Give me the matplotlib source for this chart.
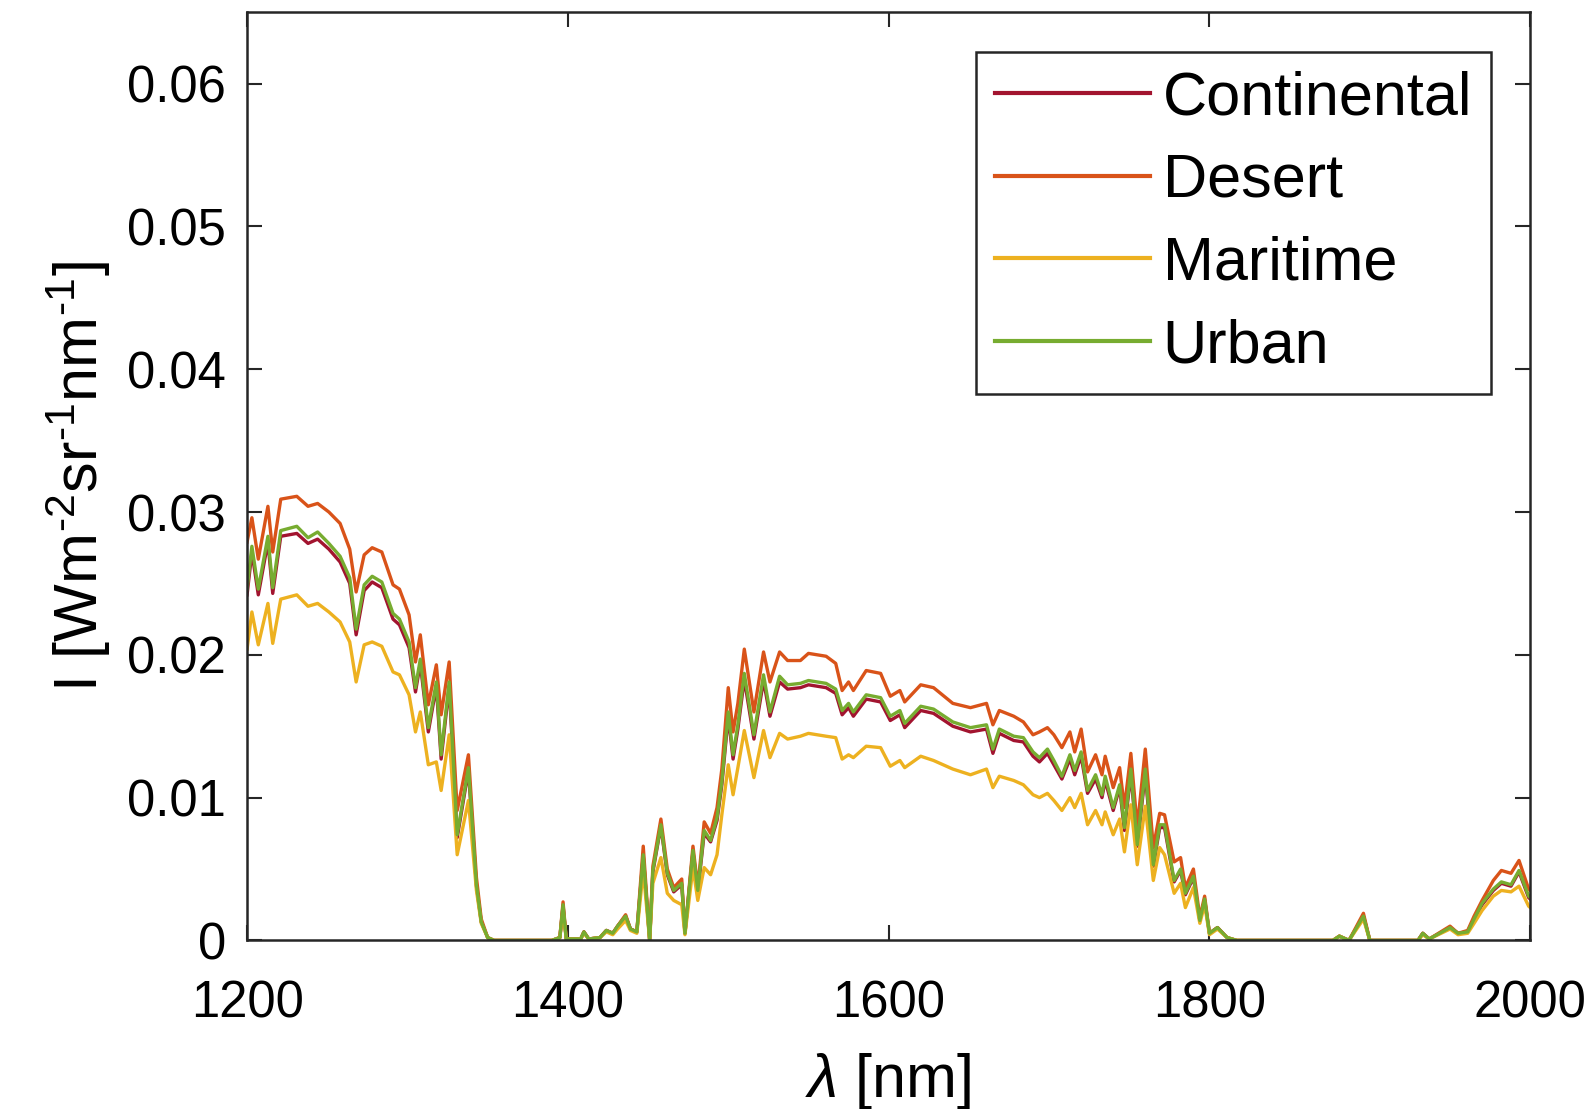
import numpy as np
import matplotlib.pyplot as plt

plt.rcParams['font.family'] = ['Liberation Sans', 'DejaVu Sans']
plt.rcParams['mathtext.fontset'] = 'custom'
plt.rcParams['mathtext.rm'] = 'Liberation Sans'
plt.rcParams['mathtext.it'] = 'Liberation Sans:italic'

# wavelength grid [nm]
wavelength = [1200, 1203, 1207, 1213, 1216, 1221, 1231, 1238, 1244, 1251,
              1258, 1264, 1268, 1273, 1278, 1284, 1291, 1295, 1301, 1305,
              1308, 1313, 1318, 1321, 1326, 1331, 1338, 1343, 1346, 1350,
              1354, 1390, 1395, 1397, 1399, 1408, 1410, 1413, 1420, 1424,
              1428, 1431, 1436, 1439, 1443, 1447, 1451, 1453, 1458, 1462,
              1466, 1471, 1473, 1478, 1481, 1485, 1489, 1493, 1496, 1500,
              1503, 1506, 1510, 1516, 1522, 1526, 1532, 1537, 1545, 1550,
              1561, 1567, 1571, 1575, 1578, 1586, 1595, 1601, 1607, 1610,
              1620, 1628, 1640, 1651, 1661, 1665, 1669, 1678, 1684, 1690,
              1694, 1699, 1703, 1708, 1713, 1716, 1720, 1724, 1729, 1733,
              1735, 1740, 1744, 1747, 1751, 1755, 1760, 1765, 1769, 1772,
              1778, 1782, 1785, 1790, 1794, 1797, 1800, 1805, 1811, 1817,
              1877, 1881, 1887, 1896, 1900, 1930, 1933, 1937, 1950, 1955,
              1961, 1965, 1970, 1977, 1982, 1988, 1993, 1999, 2000]

continental = [.0242, .0272, .0242, .0279, .0243, .0283, .0285, .0278, .0281, .0274,
               .0265, .0250, .0214, .0245, .0251, .0247, .0225, .0221, .0205, .0174,
               .0194, .0146, .0178, .0127, .0178, .0072, .0119, .0038, .0013, .0002,
               0, 0, .0002, .0024, .0001, .0001, .0006, .0001, .0002, .0007,
               .0005, .0010, .0017, .0008, .0006, .0059, 0, .0048, .0080, .0046,
               .0034, .0039, .0005, .0062, .0034, .0075, .0069, .0084, .0109, .0157,
               .0127, .0148, .0183, .0141, .0182, .0157, .0181, .0176, .0177, .0179,
               .0177, .0173, .0158, .0163, .0157, .0169, .0167, .0154, .0158, .0149,
               .0161, .0159, .0150, .0146, .0148, .0131, .0145, .0140, .0139, .0129,
               .0125, .0131, .0123, .0113, .0127, .0116, .0129, .0103, .0113, .0100,
               .0112, .0091, .0107, .0077, .0117, .0066, .0117, .0052, .0079, .0079,
               .0041, .0049, .0032, .0044, .0014, .0028, .0005, .0009, .0002, 0,
               0, .0003, 0, .0017, 0, 0, .0005, .0001, .0009, .0005,
               .0006, .0015, .0025, .0035, .0040, .0038, .0048, .0030, .0029]

desert = [.0279, .0296, .0267, .0304, .0272, .0309, .0311, .0304, .0306, .0300,
          .0292, .0274, .0244, .0270, .0275, .0272, .0249, .0246, .0228, .0195,
          .0214, .0165, .0193, .0158, .0195, .0091, .0130, .0044, .0015, .0002,
          0, 0, .0002, .0027, .0001, .0001, .0006, .0001, .0002, .0007,
          .0005, .0010, .0018, .0008, .0006, .0066, 0, .0052, .0085, .0050,
          .0037, .0043, .0005, .0066, .0037, .0083, .0075, .0093, .0120, .0177,
          .0146, .0166, .0204, .0160, .0202, .0181, .0202, .0196, .0196, .0201,
          .0199, .0194, .0175, .0181, .0175, .0189, .0187, .0171, .0175, .0167,
          .0179, .0177, .0166, .0163, .0166, .0151, .0161, .0157, .0153, .0144,
          .0146, .0149, .0144, .0135, .0146, .0132, .0148, .0118, .0130, .0116,
          .0129, .0107, .0121, .0093, .0131, .0079, .0134, .0065, .0089, .0088,
          .0055, .0058, .0037, .0050, .0016, .0031, .0005, .0009, .0002, 0,
          0, .0003, 0, .0019, 0, 0, .0005, .0001, .0010, .0005,
          .0007, .0017, .0028, .0042, .0049, .0047, .0056, .0036, .0035]

maritime = [.0204, .0230, .0207, .0236, .0208, .0239, .0242, .0234, .0236, .0230,
            .0223, .0209, .0181, .0207, .0209, .0206, .0188, .0186, .0172, .0146,
            .0160, .0123, .0125, .0105, .0144, .0060, .0098, .0035, .0012, .0002,
            0, 0, .0002, .0021, .0001, .0001, .0005, .0001, .0002, .0006,
            .0004, .0008, .0014, .0007, .0005, .0049, 0, .0040, .0058, .0033,
            .0028, .0025, .0004, .0051, .0028, .0051, .0046, .0060, .0088, .0123,
            .0102, .0121, .0147, .0114, .0147, .0128, .0145, .0141, .0143, .0145,
            .0143, .0142, .0127, .0130, .0128, .0136, .0135, .0122, .0126, .0121,
            .0129, .0126, .0120, .0116, .0120, .0107, .0115, .0112, .0109, .0102,
            .0100, .0103, .0098, .0091, .0100, .0093, .0103, .0081, .0091, .0081,
            .0090, .0074, .0085, .0062, .0095, .0053, .0094, .0042, .0065, .0060,
            .0033, .0040, .0023, .0037, .0012, .0025, .0004, .0008, .0002, 0,
            0, .0003, 0, .0015, 0, 0, .0004, .0001, .0008, .0004,
            .0005, .0012, .0021, .0031, .0035, .0034, .0038, .0024, .0023]

urban = [.0246, .0276, .0246, .0283, .0247, .0287, .0290, .0282, .0286, .0278,
         .0269, .0254, .0218, .0249, .0255, .0251, .0229, .0225, .0209, .0177,
         .0197, .0149, .0181, .0130, .0181, .0074, .0121, .0039, .0013, .0002,
         0, 0, .0002, .0025, .0001, .0001, .0006, .0001, .0002, .0007,
         .0005, .0010, .0017, .0008, .0006, .0060, 0, .0049, .0081, .0047,
         .0035, .0040, .0005, .0063, .0035, .0077, .0070, .0086, .0111, .0160,
         .0130, .0151, .0187, .0144, .0186, .0160, .0185, .0179, .0180, .0182,
         .0180, .0176, .0161, .0166, .0160, .0172, .0170, .0157, .0161, .0152,
         .0164, .0162, .0153, .0149, .0151, .0134, .0148, .0143, .0142, .0132,
         .0128, .0134, .0126, .0115, .0130, .0119, .0132, .0105, .0116, .0102,
         .0115, .0093, .0109, .0079, .0120, .0067, .0120, .0053, .0081, .0081,
         .0042, .0050, .0033, .0045, .0014, .0029, .0005, .0009, .0002, 0,
         0, .0003, 0, .0017, 0, 0, .0005, .0001, .0009, .0005,
         .0006, .0015, .0026, .0036, .0041, .0039, .0049, .0031, .0030]

series = [("Continental", continental, "#A2142F"),
          ("Desert", desert, "#D95319"),
          ("Maritime", maritime, "#EDB120"),
          ("Urban", urban, "#77AC30")]

fig = plt.figure(figsize=(15.94, 11.09), dpi=100)
ax = fig.add_axes([0.155, 0.152, 0.805, 0.837])

for name, vals, col in series:
    ax.plot(wavelength, vals, color=col, lw=2.4, label=name)

ax.set_xlim(1200, 2000)
ax.set_ylim(0, 0.065)
ax.set_xticks([1200, 1400, 1600, 1800, 2000])
ax.set_yticks([0, 0.01, 0.02, 0.03, 0.04, 0.05, 0.06])
ax.set_yticklabels(["0", "0.01", "0.02", "0.03", "0.04", "0.05", "0.06"])
ax.tick_params(direction='in', length=11, width=1.5, labelsize=36.5,
               top=True, right=True, color='#262626')
ax.tick_params(axis='x', pad=28)
ax.tick_params(axis='y', pad=15)
for s in ax.spines.values():
    s.set_linewidth(1.8)
    s.set_color('#262626')

ax.set_xlabel(r'$\it{\lambda}$ [nm]', fontsize=44, labelpad=16)
ax.set_ylabel(r'I [Wm$^{\text{-2}}$sr$^{\text{-1}}$nm$^{\text{-1}}$]', fontsize=44, labelpad=10)

leg = ax.legend(loc='upper right', fontsize=44, handlelength=2.55,
                handletextpad=0.2, labelspacing=0.42, borderaxespad=0.65,
                borderpad=0.3, fancybox=False, framealpha=1, edgecolor='#262626')
leg.get_frame().set_linewidth(1.8)
for line in leg.get_lines():
    line.set_linewidth(3)

fig.savefig("out.png", dpi=100)
